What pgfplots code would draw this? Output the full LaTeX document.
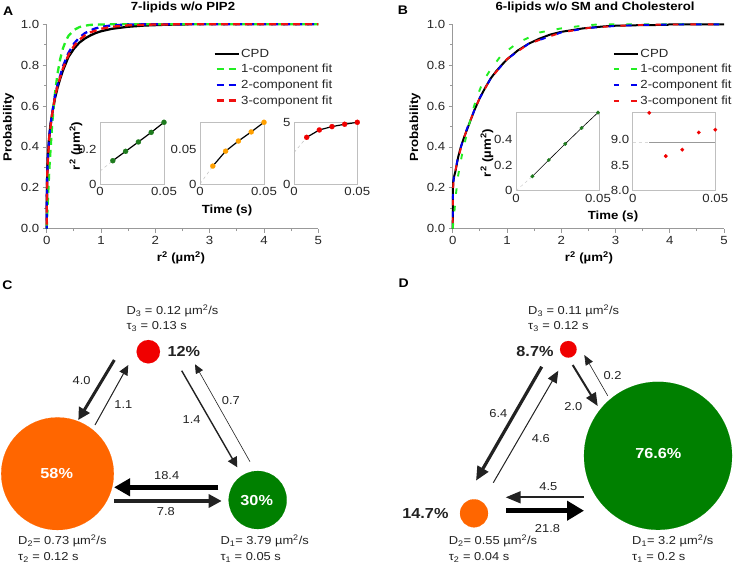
\documentclass[border=0pt]{standalone}
\usepackage{fontspec}
\setmainfont{Liberation Sans}[FakeStretch=1.12]
\usepackage{pgfplots}
\pgfplotsset{compat=1.18}
\usetikzlibrary{arrows.meta}

\definecolor{cgreen}{HTML}{008000}
\definecolor{corange}{HTML}{FF6600}
\definecolor{cred}{HTML}{F00000}
\definecolor{fgreen}{HTML}{22EE22}
\definecolor{fblue}{HTML}{0000F0}
\definecolor{fred}{HTML}{F01010}
\definecolor{dgreen}{HTML}{1E7B1E}
\definecolor{dorange}{HTML}{FFA000}
\definecolor{txt}{HTML}{222222}

\newcommand{\fs}{\fontsize{11.8}{13}\selectfont}
\newcommand{\ft}{\fontsize{11.5}{13}\selectfont}
\newcommand{\fp}{\fontsize{14.5}{16}\selectfont\bfseries}

\pgfplotsset{
  mainax/.style={scale only axis, axis x line*=bottom, axis y line*=left,
    xmin=0, xmax=5, ymin=0, ymax=1, clip=false,
    xtick={0,1,2,3,4,5}, ytick={0,0.2,0.4,0.6,0.8,1.0},
    minor xtick={0.5,1.5,2.5,3.5,4.5}, minor ytick={0.1,0.3,0.5,0.7,0.9},
    tick align=outside, major tick length=4pt, minor tick length=2.5pt,
    every tick/.style={gray!80, line width=0.8pt},
    axis line style={-, gray!80, line width=0.9pt},
    tick label style={font=\fs, text=black!85},
    /pgf/number format/assume math mode=true,
    yticklabel style={/pgf/number format/fixed, /pgf/number format/fixed zerofill, /pgf/number format/precision=1},
    legend cell align=left,
    legend style={draw=none, fill=none, font=\fs, anchor=north west, row sep=2.6pt,
      inner sep=0pt, nodes={inner sep=1.5pt, text=black!85}},
    legend image code/.code={\draw[##1] (0pt,0pt) -- (24pt,0pt);}},
  inset/.style={scale only axis, clip=false, axis line style={gray!50, line width=0.6pt},
    major tick length=0pt, tick label style={font=\fs, text=black!85},
    scaled ticks=false,
    xmin=0, xtick={0,0.05}, xticklabels={0,0.05}},
  overlay/.style={at={(0pt,0pt)}, anchor=south west, scale only axis, width=736pt, height=567pt,
    xmin=0, xmax=736, ymin=0, ymax=567, y dir=reverse, hide axis, clip=false},
}

\begin{document}
\begin{tikzpicture}
\useasboundingbox (0pt,0pt) rectangle (736pt,567pt);

% ---------------- Panel A ----------------
\begin{axis}[mainax, at={(46.7pt,338.3pt)}, anchor=south west, width=271.6pt, height=204.4pt,
  legend style={at={(0.613,0.888)}}]
\addplot[black, line width=2.3pt] coordinates {(0,0)(0.001,0.05)(0.003,0.15)(0.006,0.22)(0.01,0.27)(0.02,0.34)(0.04,0.43)(0.07,0.51)(0.1,0.56)(0.15,0.635)(0.2,0.69)(0.25,0.735)(0.3,0.775)(0.4,0.84)(0.5,0.88)(0.6,0.91)(0.7,0.93)(0.8,0.945)(0.9,0.957)(1.0,0.966)(1.2,0.978)(1.5,0.988)(1.8,0.994)(2.2,0.998)(2.6,1.0)};
\addlegendentry{CPD}
\addplot[fgreen, line width=2.3pt, dash pattern=on 7pt off 5pt, legend image post style={dash phase=-2pt}] coordinates {(0,0)(0.02,0.133)(0.05,0.300)(0.1,0.510)(0.15,0.657)(0.2,0.760)(0.25,0.832)(0.3,0.883)(0.35,0.918)(0.4,0.943)(0.5,0.972)(0.6,0.986)(0.7,0.993)(0.8,0.997)(1.0,0.999)(1.2,1.0)(5,1.0)};
\addlegendentry{1-component fit}
\addplot[fblue, line width=2.3pt, dash pattern=on 7pt off 5pt, dash phase=4pt, legend image post style={dash phase=-2pt}] coordinates {(0,0)(0.003,0.16)(0.01,0.27)(0.02,0.34)(0.05,0.46)(0.1,0.565)(0.15,0.645)(0.2,0.705)(0.3,0.795)(0.4,0.86)(0.5,0.905)(0.6,0.935)(0.7,0.956)(0.8,0.97)(0.9,0.98)(1.0,0.987)(1.2,0.995)(1.5,0.999)(2,1.0)(5,1.0)};
\addlegendentry{2-component fit}
\addplot[fred, line width=2.3pt, dash pattern=on 7pt off 5pt, dash phase=8pt, legend image post style={dash phase=-2pt}] coordinates {(0,0)(0.002,0.1)(0.01,0.26)(0.02,0.33)(0.05,0.455)(0.1,0.56)(0.15,0.64)(0.2,0.70)(0.3,0.785)(0.4,0.85)(0.5,0.893)(0.6,0.924)(0.7,0.945)(0.8,0.96)(1.0,0.978)(1.2,0.988)(1.5,0.995)(2,0.999)(2.5,1.0)(5,1.0)};
\addlegendentry{3-component fit}
\end{axis}

\begin{axis}[inset, at={(100pt,383pt)}, anchor=south west, width=64pt, height=61.7pt,
  xmax=0.05, ymin=0, ymax=0.355, ytick={0,0.2}, yticklabels={0,0.2}]
\addplot[gray!50, dashed, line width=0.5pt] coordinates {(0,0.074)(0.01,0.134)};
\addplot[black, line width=1.2pt, mark=*, mark size=2.6pt, mark options={draw=dgreen, fill=dgreen, line width=0.1pt}] coordinates {(0.01,0.134)(0.02,0.188)(0.03,0.242)(0.04,0.297)(0.05,0.355)};
\end{axis}
\begin{axis}[inset, at={(200pt,383pt)}, anchor=south west, width=64pt, height=61.7pt,
  xmax=0.05, ymin=0, ymax=0.0885, ytick={0,0.05}, yticklabels={0,0.05}]
\addplot[gray!50, dashed, line width=0.5pt] coordinates {(0,0)(0.01,0.0257)};
\addplot[black, line width=1.2pt, mark=*, mark size=2.6pt, mark options={draw=dorange, fill=dorange, line width=0.1pt}] coordinates {(0.01,0.0257)(0.02,0.0471)(0.03,0.0616)(0.04,0.0747)(0.05,0.0885)};
\end{axis}
\begin{axis}[inset, at={(294pt,383pt)}, anchor=south west, width=63.3pt, height=61.7pt,
  xmax=0.05, ymin=0, ymax=5, ytick={0,5}, yticklabels={0,5}]
\addplot[gray!50, dashed, line width=0.5pt] coordinates {(0,2.54)(0.01,3.78)};
\addplot[black, line width=1.2pt, mark=*, mark size=2.6pt, mark options={draw=cred, fill=cred, line width=0.1pt}] coordinates {(0.01,3.78)(0.02,4.38)(0.03,4.65)(0.04,4.84)(0.05,5.0)};
\end{axis}

% ---------------- Panel B ----------------
\begin{axis}[mainax, at={(452.7pt,338.3pt)}, anchor=south west, width=271.3pt, height=204.4pt,
  legend style={at={(0.59,0.888)}}]
\addplot[black, line width=2pt] coordinates {(0,0)(0.002,0.1)(0.005,0.2)(0.01,0.23)(0.03,0.26)(0.05,0.28)(0.1,0.35)(0.15,0.40)(0.2,0.44)(0.3,0.51)(0.4,0.58)(0.5,0.64)(0.6,0.69)(0.7,0.735)(0.8,0.77)(0.9,0.80)(1.0,0.828)(1.2,0.872)(1.4,0.905)(1.6,0.93)(1.8,0.95)(2.0,0.963)(2.4,0.98)(2.8,0.99)(3.0,0.993)(3.5,0.996)(3.95,0.997)(4.0,1.0)(5,1.0)};
\addlegendentry{CPD}
\addplot[fgreen, line width=1.9pt, dash pattern=on 5.5pt off 12pt, legend image post style={dash phase=0pt}] coordinates {(0,0)(0.03,0.08)(0.06,0.17)(0.1,0.26)(0.17,0.36)(0.23,0.43)(0.35,0.56)(0.44,0.64)(0.56,0.72)(0.7,0.78)(0.9,0.85)(1.2,0.91)(1.6,0.96)(2.0,0.98)(2.4,0.993)(2.7,1.0)(5,1.0)};
\addlegendentry{1-component fit}
\addplot[fblue, line width=1.9pt, dash pattern=on 5.5pt off 12pt, dash phase=5.8pt, legend image post style={dash phase=0pt}] coordinates {(0,0)(0.003,0.12)(0.006,0.2)(0.02,0.25)(0.05,0.29)(0.1,0.35)(0.2,0.445)(0.3,0.515)(0.4,0.58)(0.5,0.64)(0.7,0.735)(1.0,0.83)(1.4,0.905)(2.0,0.96)(2.5,0.982)(3.0,0.992)(3.5,0.997)(4,0.999)(5,1.0)};
\addlegendentry{2-component fit}
\addplot[fred, line width=1.9pt, dash pattern=on 5.5pt off 12pt, dash phase=11.7pt, legend image post style={dash phase=0pt}] coordinates {(0,0)(0.002,0.1)(0.006,0.19)(0.02,0.25)(0.05,0.285)(0.1,0.345)(0.2,0.44)(0.3,0.512)(0.4,0.58)(0.5,0.64)(0.7,0.735)(1.0,0.83)(1.4,0.905)(2.0,0.96)(2.5,0.982)(3.0,0.992)(3.5,0.997)(4,0.999)(5,1.0)};
\addlegendentry{3-component fit}
\end{axis}

\begin{axis}[inset, at={(516pt,376.3pt)}, anchor=south west, width=83.3pt, height=78.4pt,
  xmax=0.0508, ymin=0, ymax=0.61, ytick={0,0.2,0.4}, yticklabels={0,0.2,0.4}]
\addplot[gray!40, dashed, line width=0.5pt] coordinates {(0,0)(0.01,0.112)};
\addplot[black, line width=0.6pt, mark=*, mark size=1.9pt, mark options={draw=dgreen, fill=dgreen, line width=0.1pt}] coordinates {(0.01,0.112)(0.02,0.239)(0.03,0.364)(0.04,0.488)(0.05,0.608)};
\end{axis}
\begin{axis}[inset, at={(632.7pt,376.3pt)}, anchor=south west, width=82.6pt, height=78.4pt,
  xmax=0.05, ymin=8, ymax=9.53, ytick={8,8.5,9}, yticklabels={8.0,8.5,9.0}]
\addplot[gray!30, dashed, line width=0.8pt] coordinates {(0,8.935)(0.01,8.935)};
\addplot[gray!80, line width=0.9pt] coordinates {(0.01,8.935)(0.05,8.935)};
\addplot[only marks, mark=*, mark size=1.9pt, mark options={draw=cred, fill=cred, line width=0.1pt}] coordinates {(0.01,9.52)(0.02,8.675)(0.03,8.80)(0.04,9.136)(0.05,9.19)};
\end{axis}

% ---------------- Overlay (pixel coordinates) ----------------
\begin{axis}[overlay]
% panel letters and titles
\node[font=\fontsize{12.5}{14}\selectfont\bfseries] at (axis cs:8.3,10.8) {A};
\node[font=\fontsize{12.5}{14}\selectfont\bfseries] at (axis cs:403,10.5) {B};
\node[font=\fontsize{12.5}{14}\selectfont\bfseries] at (axis cs:7.5,284.7) {C};
\node[font=\fontsize{12.5}{14}\selectfont\bfseries] at (axis cs:403.8,283.3) {D};
\node[font=\fs\bfseries] at (axis cs:183,7.5) {7-lipids w/o PIP2};
\node[font=\fs\bfseries] at (axis cs:595,7.5) {6-lipids w/o SM and Cholesterol};
\node[font=\fs\bfseries, rotate=90] at (axis cs:8.5,127) {Probability};
\node[font=\fs\bfseries, rotate=90] at (axis cs:415,127) {Probability};
\node[font=\fs\bfseries] at (axis cs:181,258) {r\textsuperscript{2} (µm\textsuperscript{2})};
\node[font=\fs\bfseries] at (axis cs:589,258) {r\textsuperscript{2} (µm\textsuperscript{2})};
\node[font=\fs\bfseries, rotate=90] at (axis cs:76,146) {r\textsuperscript{2} (µm\textsuperscript{2})};
\node[font=\fs\bfseries, rotate=90] at (axis cs:487,153) {r\textsuperscript{2} (µm\textsuperscript{2})};
\node[font=\fs\bfseries] at (axis cs:227,210) {Time (s)};
\node[font=\fs\bfseries] at (axis cs:613,216) {Time (s)};

% ---- C: circles
\addplot[only marks, mark=*, mark size=11.7pt, mark options={draw=cred, fill=cred, line width=0.1pt}] coordinates {(148.3,351.7)};
\addplot[only marks, mark=*, mark size=56.3pt, mark options={draw=corange, fill=corange, line width=0.1pt}] coordinates {(57.5,473.7)};
\addplot[only marks, mark=*, mark size=29pt, mark options={draw=cgreen, fill=cgreen, line width=0.1pt}] coordinates {(257.7,500)};
% ---- C: arrows
\addplot[txt, line width=3pt, -{Triangle[length=12pt,width=12pt]}] coordinates {(114.3,360)(78.3,420)};
\addplot[txt, line width=1pt, -{Triangle[length=10pt,width=9pt]}] coordinates {(95,425)(128.3,365)};
\addplot[txt, line width=1.4pt, -{Triangle[length=10pt,width=10pt]}] coordinates {(181.7,370.7)(237.3,467.3)};
\addplot[txt, line width=0.6pt, -{Triangle[length=9pt,width=8pt]}] coordinates {(250,461.7)(195,364.3)};
\addplot[black, line width=5pt, -{Triangle[length=16pt,width=17pt]}] coordinates {(218.3,487.3)(114,487.3)};
\addplot[txt, line width=3.5pt, -{Triangle[length=13pt,width=13pt]}] coordinates {(114.3,501)(221.7,501)};
% ---- C: texts
\node[font=\fp, anchor=west, text=txt] at (axis cs:164,351.7) {12\%};
\node[font=\ft, anchor=west, text=txt] at (axis cs:123,311) {D\textsubscript{3} = 0.12 µm\textsuperscript{2}/s};
\node[font=\ft, anchor=west, text=txt] at (axis cs:123,326.5) {τ\textsubscript{3} = 0.13 s};
\node[font=\ft, anchor=west, text=txt] at (axis cs:14.7,541) {D\textsubscript{2}= 0.73 µm\textsuperscript{2}/s};
\node[font=\ft, anchor=west, text=txt] at (axis cs:14.7,557.5) {τ\textsubscript{2} = 0.12 s};
\node[font=\ft, anchor=west, text=txt] at (axis cs:217,541) {D\textsubscript{1}= 3.79 µm\textsuperscript{2}/s};
\node[font=\ft, anchor=west, text=txt] at (axis cs:217,557.5) {τ\textsubscript{1} = 0.05 s};
\node[font=\ft, text=txt] at (axis cs:81.7,380.8) {4.0};
\node[font=\ft, text=txt] at (axis cs:123.3,405) {1.1};
\node[font=\ft, text=txt] at (axis cs:191.7,420) {1.4};
\node[font=\ft, text=txt] at (axis cs:230.8,400.8) {0.7};
\node[font=\ft, text=txt] at (axis cs:166.7,475.3) {18.4};
\node[font=\ft, text=txt] at (axis cs:165.8,511.3) {7.8};

% ---- D: circles
\addplot[only marks, mark=*, mark size=8.3pt, mark options={draw=cred, fill=cred, line width=0.1pt}] coordinates {(568.3,349.3)};
\addplot[only marks, mark=*, mark size=74pt, mark options={draw=cgreen, fill=cgreen, line width=0.1pt}] coordinates {(658,455.8)};
\addplot[only marks, mark=*, mark size=14pt, mark options={draw=corange, fill=corange, line width=0.1pt}] coordinates {(474,513.3)};
% ---- D: arrows
\addplot[txt, line width=3.2pt, -{Triangle[length=14pt,width=12pt]}] coordinates {(541.7,366.7)(476,480.7)};
\addplot[txt, line width=1pt, -{Triangle[length=12pt,width=10pt]}] coordinates {(493.3,482.7)(558.3,370.7)};
\addplot[txt, line width=2pt, -{Triangle[length=13pt,width=11pt]}] coordinates {(572.7,365)(597.7,406)};
\addplot[txt, line width=0.6pt, -{Triangle[length=10pt,width=8pt]}] coordinates {(607.7,395.7)(584.3,355)};
\addplot[txt, line width=1.7pt, -{Triangle[length=15pt,width=12pt]}] coordinates {(584,497.3)(505.7,497.3)};
\addplot[black, line width=5.3pt, -{Triangle[length=17pt,width=19pt]}] coordinates {(506,510.7)(584,510.7)};
% ---- D: texts
\node[font=\fp, anchor=east, text=txt] at (axis cs:557,352) {8.7\%};
\node[font=\fp, anchor=east, text=txt] at (axis cs:452,514) {14.7\%};
\node[font=\ft, anchor=west, text=txt] at (axis cs:524.7,311) {D\textsubscript{3} = 0.11 µm\textsuperscript{2}/s};
\node[font=\ft, anchor=west, text=txt] at (axis cs:524.7,326.5) {τ\textsubscript{3} = 0.12 s};
\node[font=\ft, anchor=west, text=txt] at (axis cs:445.3,541) {D\textsubscript{2}= 0.55 µm\textsuperscript{2}/s};
\node[font=\ft, anchor=west, text=txt] at (axis cs:445.3,557.5) {τ\textsubscript{2} = 0.04 s};
\node[font=\ft, anchor=west, text=txt] at (axis cs:628.7,541) {D\textsubscript{1}= 3.2 µm\textsuperscript{2}/s};
\node[font=\ft, anchor=west, text=txt] at (axis cs:628.7,557.5) {τ\textsubscript{1} = 0.2 s};
\node[font=\ft, text=txt] at (axis cs:498.3,413.3) {6.4};
\node[font=\ft, text=txt] at (axis cs:540.8,438.3) {4.6};
\node[font=\ft, text=txt] at (axis cs:573.3,406.7) {2.0};
\node[font=\ft, text=txt] at (axis cs:612.5,375.8) {0.2};
\node[font=\ft, text=txt] at (axis cs:548.3,486.7) {4.5};
\node[font=\ft, text=txt] at (axis cs:547.5,528.3) {21.8};
\end{axis}

% ---------------- Overlay for labels on top of the circles ----------------
\begin{axis}[overlay]
\addplot[draw=none] coordinates {(0,0)};
\node[font=\fp, text=white] at (axis cs:56.7,473.3) {58\%};
\node[font=\fp, text=white] at (axis cs:256.7,500.7) {30\%};
\node[font=\fp, text=white] at (axis cs:658.3,454) {76.6\%};
\end{axis}
\end{tikzpicture}
\end{document}
